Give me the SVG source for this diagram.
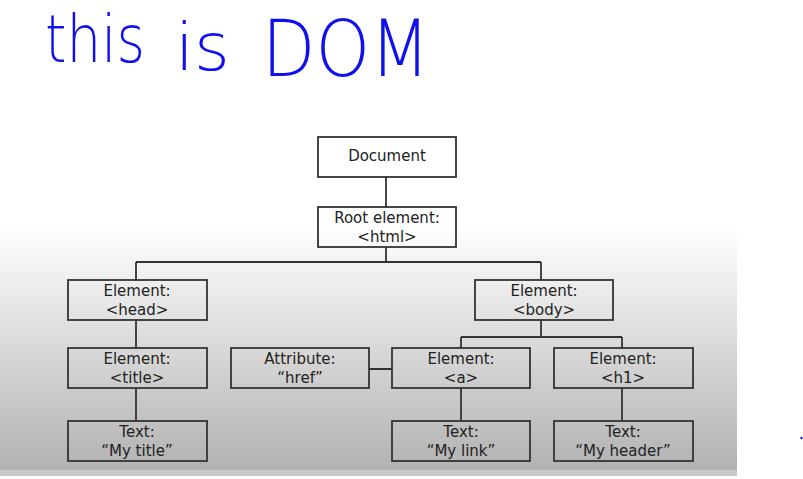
<svg xmlns="http://www.w3.org/2000/svg" width="803" height="479" viewBox="0 0 803 479">
<defs>
<linearGradient id="bg" x1="0" y1="0" x2="0" y2="1">
<stop offset="0" stop-color="#ffffff"/>
<stop offset="1" stop-color="#b2b2b2"/>
</linearGradient>
<style>
.box{fill:none;stroke:#333;stroke-width:1.8}
.lbl{font-family:"DejaVu Sans","Verdana",sans-serif;font-size:15px;fill:#222;text-anchor:middle}
.wire{fill:none;stroke:#333;stroke-width:1.8}
.hand{font-family:"DejaVu Sans",sans-serif;font-weight:200;fill:#1010ee}
</style>
</defs>
<rect width="803" height="479" fill="#fff"/>
<rect x="0" y="227" width="737" height="243" fill="url(#bg)"/>
<rect x="0" y="470" width="737" height="6" fill="#c8c8c8"/>
<g id="handwriting">
<text class="hand" x="45" y="62" font-size="66" textLength="100" lengthAdjust="spacingAndGlyphs">this</text>
<text class="hand" x="175" y="70" font-size="66" textLength="55" lengthAdjust="spacingAndGlyphs">is</text>
<text class="hand" x="262" y="76" font-size="78" textLength="168" lengthAdjust="spacingAndGlyphs">DOM</text>
<circle cx="801.5" cy="438" r="1.2" fill="#1010ee"/>
</g>
<g id="connectors">
<path class="wire" d="M386 177V207M386 247V262M136 262H541M136 262V280M541 262V280M136 320V348M541 320V337M461 337H622M461 337V348M622 337V348M369 369H392M136 388V421M461 388V421M622 388V421"/>
</g>
<g id="document"><rect class="box" x="318" y="137" width="138" height="40"/><text class="lbl" x="387" y="161">Document</text></g>
<g id="root"><rect class="box" x="318" y="207" width="138" height="40"/><text class="lbl" x="387" y="223">Root element:</text><text class="lbl" x="387" y="242">&lt;html&gt;</text></g>
<g id="head"><rect class="box" x="68" y="280" width="139" height="40"/><text class="lbl" x="137" y="296">Element:</text><text class="lbl" x="137" y="315">&lt;head&gt;</text></g>
<g id="body"><rect class="box" x="475" y="280" width="138" height="40"/><text class="lbl" x="544" y="296">Element:</text><text class="lbl" x="544" y="315">&lt;body&gt;</text></g>
<g id="title"><rect class="box" x="68" y="348" width="139" height="40"/><text class="lbl" x="137" y="364">Element:</text><text class="lbl" x="137" y="383">&lt;title&gt;</text></g>
<g id="attribute"><rect class="box" x="231" y="348" width="138" height="40"/><text class="lbl" x="300" y="364">Attribute:</text><text class="lbl" x="300" y="383">“href”</text></g>
<g id="a"><rect class="box" x="392" y="348" width="138" height="40"/><text class="lbl" x="461" y="364">Element:</text><text class="lbl" x="461" y="383">&lt;a&gt;</text></g>
<g id="h1"><rect class="box" x="554" y="348" width="139" height="40"/><text class="lbl" x="623" y="364">Element:</text><text class="lbl" x="623" y="383">&lt;h1&gt;</text></g>
<g id="text-title"><rect class="box" x="68" y="421" width="139" height="40"/><text class="lbl" x="137" y="437">Text:</text><text class="lbl" x="137" y="456">“My title”</text></g>
<g id="text-link"><rect class="box" x="392" y="421" width="138" height="40"/><text class="lbl" x="461" y="437">Text:</text><text class="lbl" x="461" y="456">“My link”</text></g>
<g id="text-header"><rect class="box" x="554" y="421" width="139" height="40"/><text class="lbl" x="623" y="437">Text:</text><text class="lbl" x="623" y="456">“My header”</text></g>
</svg>
